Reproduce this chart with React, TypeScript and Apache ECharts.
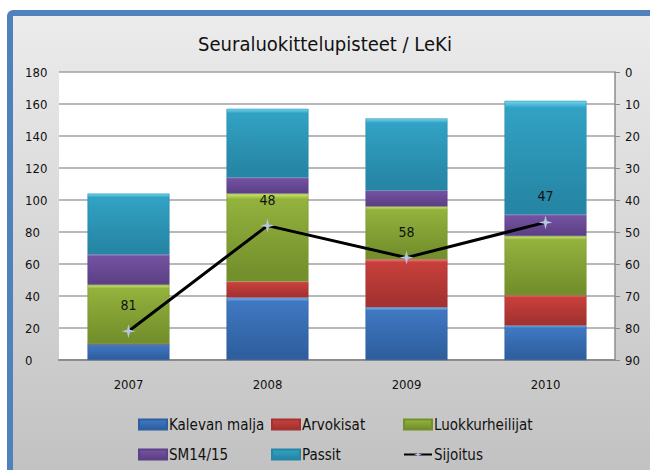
import React, { useEffect, useRef } from "react";
import * as echarts from "echarts";

const years = ["2007", "2008", "2009", "2010"];
const kalevanMalja = [10, 39, 33, 21.5];
const arvokisat = [0, 10, 30, 19];
const luokkurheilijat = [37, 55, 33, 37];
const sm1415 = [19, 10, 10, 13.5];
const passit = [38, 43, 45, 71];
const sijoitus = [81, 48, 58, 47];

const FONT = "'Liberation Sans Narrow', 'DejaVu Sans Condensed', 'Open Sans', sans-serif";

function grad(light: string, main: string, dark: string) {
  return new echarts.graphic.LinearGradient(0, 0, 0, 1, [
    { offset: 0, color: light },
    { offset: 0.06, color: main },
    { offset: 0.9, color: dark },
    { offset: 1, color: dark },
  ]);
}

const barDefs = [
  { name: "Kalevan malja", data: kalevanMalja, c: ["#7fb2ee", "#3f78c2", "#2f5f9f"] },
  { name: "Arvokisat", data: arvokisat, c: ["#f07a74", "#c8403b", "#a33230"] },
  { name: "Luokkurheilijat", data: luokkurheilijat, c: ["#cbe86c", "#93b23d", "#74902c"] },
  { name: "SM14/15", data: sm1415, c: ["#a88ad6", "#7452a2", "#5d4186"] },
  { name: "Passit", data: passit, c: ["#6ed8f0", "#32a2c4", "#2686a5"] },
];

export default function App() {
  const ref = useRef<HTMLDivElement>(null);
  useEffect(() => {
    if (!ref.current) return;
    const chart = echarts.init(ref.current, undefined, { renderer: "svg" });
    const legendPos = [
      { left: 138, top: 417 },
      { left: 271, top: 417 },
      { left: 403, top: 417 },
      { left: 138, top: 447 },
      { left: 271, top: 447 },
      { left: 403, top: 447 },
    ];
    const names = [...barDefs.map((b) => b.name), "Sijoitus"];
    const series: any[] = barDefs.map((b) => ({
      name: b.name,
      type: "bar",
      stack: "total",
      barWidth: "59%",
      data: b.data,
      itemStyle: {
        color: grad(b.c[0], b.c[1], b.c[2]),
        borderColor: b.c[2],
        borderWidth: 0.5,
      },
    }));
    series.push({
      name: "Sijoitus",
      type: "line",
      yAxisIndex: 1,
      data: sijoitus,
      symbol: "path://M5 0 L6 4 L10 5 L6 6 L5 10 L4 6 L0 5 L4 4 Z",
      symbolSize: 14,
      itemStyle: { color: "#b9c6e2" },
      lineStyle: { color: "#000", width: 3 },
      z: 10,
      label: {
        show: true,
        position: "top",
        distance: 12,
        color: "#111",
        fontSize: 14,
        fontFamily: FONT,
      },
    });
    chart.setOption({
      animation: false,
      backgroundColor: "#ffffff",
      textStyle: { fontFamily: FONT },
      graphic: [
        {
          type: "rect",
          z: -10,
          silent: true,
          shape: { x: 10, y: 13, width: 700, height: 520, r: 3 },
          style: {
            fill: new echarts.graphic.LinearGradient(0, 0, 0, 1, [
              { offset: 0, color: "#ececec" },
              { offset: 1, color: "#bcbcbc" },
            ]),
            stroke: "#4f81bd",
            lineWidth: 6,
          },
        },
      ],
      title: {
        text: "Seuraluokittelupisteet / LeKi",
        left: "center",
        top: 29,
        textStyle: { fontFamily: FONT, fontSize: 20, fontWeight: "normal", color: "#111" },
      },
      legend: legendPos.map((p, i) => ({
        data: [i < 5 ? { name: names[i], icon: "rect" } : { name: names[i] }],
        left: p.left,
        top: p.top,
        itemWidth: 28,
        itemHeight: 10,
        itemGap: 0,
        padding: 0,
        selectedMode: false,
        textStyle: { fontFamily: FONT, fontSize: 15, color: "#111", padding: [0, 0, 0, -3] },
      })),
      grid: {
        left: 59,
        right: 35,
        top: 72,
        bottom: 110,
        show: true,
        backgroundColor: "#ffffff",
        borderWidth: 0,
      },
      xAxis: {
        type: "category",
        data: years,
        axisLine: { lineStyle: { color: "#8c8c8c", width: 2 } },
        axisTick: { show: false },
        axisLabel: { color: "#111", fontSize: 13, margin: 18, fontFamily: FONT },
      },
      yAxis: [
        {
          type: "value",
          min: 0,
          max: 180,
          interval: 20,
          axisLine: { show: false },
          axisTick: { show: false },
          splitLine: { lineStyle: { color: "#a0a0a0", width: 1.5 } },
          axisLabel: { color: "#111", fontSize: 13, margin: 34, fontFamily: FONT, align: "left" },
        },
        {
          type: "value",
          min: 0,
          max: 90,
          interval: 10,
          inverse: true,
          position: "right",
          axisLine: { show: true, lineStyle: { color: "#8c8c8c", width: 1.5 } },
          axisTick: { show: true, length: 5, lineStyle: { color: "#8c8c8c" } },
          splitLine: { show: false },
          axisLabel: { color: "#111", fontSize: 13, margin: 10, fontFamily: FONT },
        },
      ],
      series,
    });
    return () => chart.dispose();
  }, []);
  return (
    <div
      ref={ref}
      style={{ position: "fixed", left: 0, top: 0, width: 650, height: 470 }}
    />
  );
}
